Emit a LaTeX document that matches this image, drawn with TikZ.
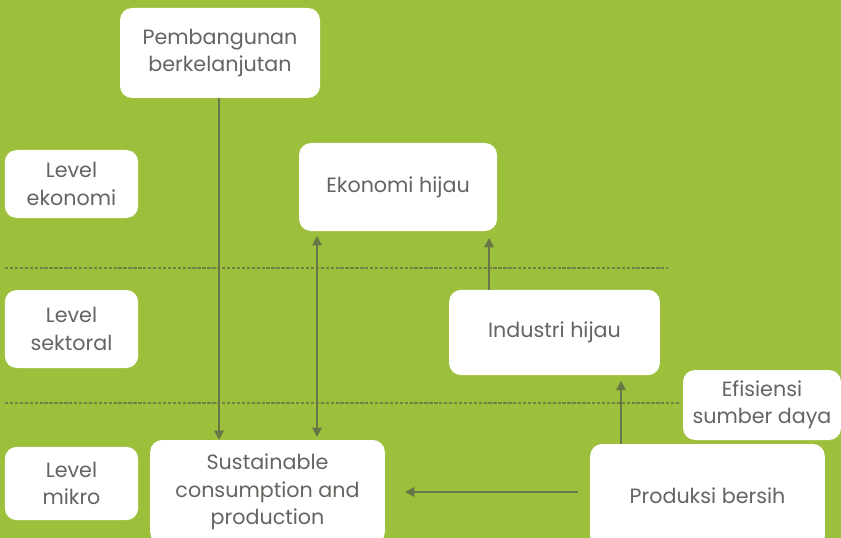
\documentclass[tikz,border=0pt]{standalone}
\usepackage{fontspec}
\setmainfont{Poppins}
\usetikzlibrary{arrows.meta}
\definecolor{bg}{RGB}{156,192,60}
\definecolor{arr}{RGB}{104,118,72}
\definecolor{txt}{RGB}{100,100,96}
\definecolor{dash}{RGB}{112,128,70}
\begin{document}
\begin{tikzpicture}[x=0.75pt,y=-0.75pt,
  box/.style={draw=none,fill=white,rounded corners=9pt,text=txt,align=center,
    font=\fontsize{15.5}{20.5}\selectfont,inner sep=0pt},
  conn/.style={draw=arr,line width=1.5pt,-{Triangle[length=7pt,width=7pt]}},
  sep/.style={draw=dash,line width=1pt,dash pattern=on 2.5pt off 1.2pt}]
\fill[bg] (0,0) rectangle (841,538);
\useasboundingbox (0,0) rectangle (841,538);
% boxes
\node[box,minimum width=150pt,minimum height=67.5pt] (pb) at (220,53) {Pembangunan\\berkelanjutan};
\node[box,minimum width=100pt,minimum height=51pt] (le) at (71.5,184) {Level\\ekonomi};
\node[box,minimum width=148.5pt,minimum height=66pt] (eh) at (398,187) {Ekonomi hijau};
\node[box,minimum width=100pt,minimum height=58.5pt] (ls) at (71.5,329) {Level\\sektoral};
\node[box,minimum width=158pt,minimum height=64pt] (ih) at (554.5,332.5) {Industri hijau};
\node[box,minimum width=118.5pt,minimum height=52.5pt] (es) at (762,405) {Efisiensi\\sumber daya};
\node[box,minimum width=100pt,minimum height=55pt] (lm) at (71.5,483.5) {Level\\mikro};
\node[box,minimum width=176pt,minimum height=78pt] (sc) at (267.5,492) {Sustainable\\consumption and\\production};
\node[box,minimum width=176pt,minimum height=78pt] (pr) at (707.5,496) {Produksi bersih};
% separators
\coordinate (d1a) at (5,268); \coordinate (d1b) at (668,268);
\coordinate (d2a) at (5,403); \coordinate (d2b) at (680,403);
\draw[sep] (d1a) -- (d1b);
\draw[sep] (d2a) -- (d2b);
% connectors
\coordinate (t1) at (219,440);
\draw[conn] (pb.south -| t1) -- (t1);
\coordinate (u1) at (317,236); \coordinate (u2) at (317,437);
\draw[conn,{Triangle[length=7pt,width=7pt]}-{Triangle[length=7pt,width=7pt]}] (u1) -- (u2);
\draw[conn] (ih.north -| 489,0) -- ([yshift=-5pt]eh.south -| 489,0);
\draw[conn] (pr.north -| 621,0) -- ([yshift=-4pt]ih.south -| 621,0);
\coordinate (h1) at (578,492); \coordinate (h2) at (405,492);
\draw[conn] (h1) -- (h2);
\end{tikzpicture}
\end{document}
